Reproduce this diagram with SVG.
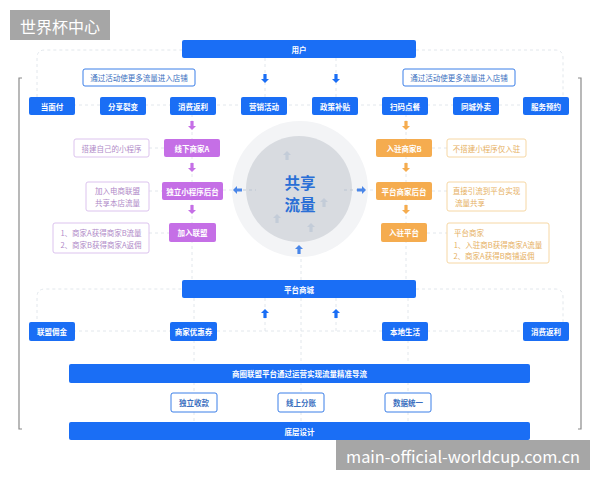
<svg xmlns="http://www.w3.org/2000/svg" width="600" height="480" viewBox="0 0 600 480">
<defs>
<style>
text{font-family:"Noto Sans CJK SC","Noto Sans",sans-serif;text-anchor:middle;dominant-baseline:central}
.b{fill:#1a6ef5}
.bt{fill:#fff;font-size:7.5px;font-weight:bold}
.wb{fill:#fff;stroke:#3a7ee8;stroke-width:1}
.wt{fill:#3a6fc0;font-size:7.5px;font-weight:bold}
.p{fill:#c56fe6}
.pb{fill:#fff;stroke:#dcc3ee;stroke-width:1}
.pt{fill:#b08ac8;font-size:7.5px}
.o{fill:#f5ac4f}
.ob{fill:#fff;stroke:#f6d7a4;stroke-width:1}
.ot{fill:#e6b062;font-size:7.5px}
.d{fill:none;stroke:#dfe4ea;stroke-width:0.9;stroke-dasharray:3 3}
.br{fill:none;stroke:#8a8a8a;stroke-width:1.2}
</style>
<path id="arr" d="M-1.6,-5 L1.6,-5 L1.6,0 L4,0 L0,4 L-4,0 L-1.6,0Z"/>
</defs>
<rect width="600" height="480" fill="#fff"/>

<g id="connectors">
<path class="d" d="M37,97 V58 Q37,50 45,50 H182 M416,50 H555 Q563,50 563,58 V97"/>
<path class="d" d="M37,105 H563"/>
<path class="d" d="M265,58 V97 M336,58 V97"/>
<path class="d" d="M192,114 V280 M406,114 V280 M301,253 V280"/>
<path class="d" d="M149,148 H164 M149,191 H162 M149,233 H169 M432,148 H447 M432,191 H447 M427,233 H447"/>
<path class="d" d="M223,190 H233 M241,190 H256 M344,190 H358 M364,190 H376"/>
<path class="d" d="M37,331 V297 Q37,289 45,289 H182 M416,289 H555 Q563,289 563,297 V331"/>
<path class="d" d="M37,331 H563"/>
<path class="d" d="M265,298 V331 M336,298 V331"/>
<path class="d" d="M194,298 V422 M301,298 V422 M408,298 V422"/>
<path class="br" d="M22,78 H19 V429 H22 M578,78 H581 V429 H578"/>
<g fill="#1a6ef5">
<use href="#arr" x="265" y="79"/>
<use href="#arr" x="336" y="79"/>
<use href="#arr" x="265" y="313" transform="rotate(180 265 313)"/>
<use href="#arr" x="336" y="313" transform="rotate(180 336 313)"/>
</g>
<g fill="#c56fe6">
<use href="#arr" x="192" y="126"/>
<use href="#arr" x="192" y="168"/>
<use href="#arr" x="192" y="210"/>
</g>
<g fill="#f5ac4f">
<use href="#arr" x="406" y="126"/>
<use href="#arr" x="406" y="168"/>
<use href="#arr" x="406" y="210"/>
</g>
</g>

<g id="title">
<rect x="10" y="10" width="100" height="30" fill="#a6a6a6"/>
<text x="60" y="25.5" fill="#fff" style="font-size:16px">世界杯中心</text>
</g>

<g id="user"><rect class="b" x="182" y="40" width="234" height="18" rx="2"/><text class="bt" x="299" y="49">用户</text></g>
<g id="note-l"><rect class="wb" x="83" y="69" width="112" height="17" rx="2"/><text class="wt" x="139" y="77.5" style="font-weight:normal">通过活动使更多流量进入店铺</text></g>
<g id="note-r"><rect class="wb" x="403" y="69" width="112" height="17" rx="2"/><text class="wt" x="459" y="77.5" style="font-weight:normal">通过活动使更多流量进入店铺</text></g>

<g id="r1-1"><rect class="b" x="29" y="97" width="46" height="18" rx="2"/><text class="bt" x="52" y="106">当面付</text></g>
<g id="r1-2"><rect class="b" x="100" y="97" width="46" height="18" rx="2"/><text class="bt" x="123" y="106">分享裂变</text></g>
<g id="r1-3"><rect class="b" x="170" y="97" width="46" height="18" rx="2"/><text class="bt" x="193" y="106">消费返利</text></g>
<g id="r1-4"><rect class="b" x="241" y="97" width="46" height="18" rx="2"/><text class="bt" x="264" y="106">营销活动</text></g>
<g id="r1-5"><rect class="b" x="312" y="97" width="46" height="18" rx="2"/><text class="bt" x="335" y="106">政策补贴</text></g>
<g id="r1-6"><rect class="b" x="382" y="97" width="46" height="18" rx="2"/><text class="bt" x="405" y="106">扫码点餐</text></g>
<g id="r1-7"><rect class="b" x="453" y="97" width="46" height="18" rx="2"/><text class="bt" x="476" y="106">同城外卖</text></g>
<g id="r1-8"><rect class="b" x="523" y="97" width="46" height="18" rx="2"/><text class="bt" x="546" y="106">服务预约</text></g>

<g id="pa"><rect class="p" x="164" y="139" width="56" height="18" rx="2"/><text class="bt" x="192" y="148">线下商家A</text></g>
<g id="pa-n"><rect class="pb" x="74" y="139" width="75" height="18" rx="2"/><text class="pt" x="111.5" y="148">搭建自己的小程序</text></g>
<g id="pb"><rect class="p" x="162" y="182" width="61" height="18" rx="2"/><text class="bt" x="192.5" y="191">独立小程序后台</text></g>
<g id="pb-n"><rect class="pb" x="86" y="182" width="63" height="29" rx="2"/><text class="pt" x="117.5" y="190.5">加入电商联盟</text><text class="pt" x="117.5" y="202">共享本店流量</text></g>
<g id="pc"><rect class="p" x="169" y="223" width="47" height="19" rx="2"/><text class="bt" x="192.5" y="232.5">加入联盟</text></g>
<g id="pc-n"><rect class="pb" x="53" y="223" width="96" height="30" rx="2"/><text class="pt" x="101" y="232">1、商家A获得商家B流量</text><text class="pt" x="101" y="244">2、商家B获得商家A返佣</text></g>

<g id="oa"><rect class="o" x="376" y="139" width="56" height="18" rx="2"/><text class="bt" x="404" y="148">入驻商家B</text></g>
<g id="oa-n"><rect class="ob" x="447" y="139" width="79" height="18" rx="2"/><text class="ot" x="486.5" y="148">不搭建小程序仅入驻</text></g>
<g id="ob"><rect class="o" x="376" y="182" width="56" height="18" rx="2"/><text class="bt" x="404" y="191">平台商家后台</text></g>
<g id="ob-n"><rect class="ob" x="447" y="182" width="79" height="29" rx="2"/><text class="ot" x="486.5" y="190.5">直接引流到平台实现</text><text class="ot" x="470" y="202">流量共享</text></g>
<g id="oc"><rect class="o" x="381" y="223" width="46" height="19" rx="2"/><text class="bt" x="404" y="232.5">入驻平台</text></g>
<g id="oc-n"><rect class="ob" x="447" y="223" width="102" height="40" rx="2"/><text class="ot" x="469" y="232">平台商家</text><text class="ot" x="498" y="244">1、入驻商B获得商家A流量</text><text class="ot" x="494" y="255.5">2、商家A获得B商铺返佣</text></g>

<g id="center">
<circle cx="300" cy="189" r="68" fill="#f3f4f6"/>
<circle cx="299" cy="189" r="53" fill="#d8dbe0"/>
<g fill="#c3ccd8">
<use href="#arr" x="287" y="155" transform="rotate(180 287 155)"/>
<use href="#arr" x="324" y="202" transform="rotate(180 324 202)"/>
<use href="#arr" x="277" y="218" transform="rotate(180 277 218)"/>
<use href="#arr" x="311" y="227" transform="rotate(180 311 227)"/>
</g>
<path class="d" d="M243,190 H256 M344,190 H357" style="stroke:#b9c3d0"/>
<use href="#arr" x="237" y="190" transform="rotate(90 237 190)" fill="#4a86e8"/>
<use href="#arr" x="362" y="190" transform="rotate(-90 362 190)" fill="#4a86e8"/>
<use href="#arr" x="299" y="249" transform="rotate(180 299 249)" fill="#4a86e8"/>
<text x="300" y="181.5" fill="#2a6fd6" style="font-size:15.5px;font-weight:bold">共享</text>
<text x="300" y="204" fill="#2a6fd6" style="font-size:15.5px;font-weight:bold">流量</text>
</g>

<g id="mall"><rect class="b" x="182" y="280" width="234" height="18" rx="2"/><text class="bt" x="299" y="289">平台商城</text></g>
<g id="r2-1"><rect class="b" x="29" y="322" width="46" height="19" rx="2"/><text class="bt" x="52" y="331.5">联盟佣金</text></g>
<g id="r2-2"><rect class="b" x="170" y="322" width="47" height="19" rx="2"/><text class="bt" x="193.5" y="331.5">商家优惠券</text></g>
<g id="r2-3"><rect class="b" x="382" y="322" width="46" height="19" rx="2"/><text class="bt" x="405" y="331.5">本地生活</text></g>
<g id="r2-4"><rect class="b" x="523" y="322" width="46" height="19" rx="2"/><text class="bt" x="546" y="331.5">消费返利</text></g>

<g id="alliance"><rect class="b" x="69" y="364" width="461" height="19" rx="2"/><text class="bt" x="299.5" y="373.5">商圈联盟平台通过运营实现流量精准导流</text></g>
<g id="b-1"><rect class="wb" x="171" y="393" width="46" height="19" rx="2"/><text class="wt" x="194" y="402.5">独立收款</text></g>
<g id="b-2"><rect class="wb" x="278" y="393" width="46" height="19" rx="2"/><text class="wt" x="301" y="402.5">线上分账</text></g>
<g id="b-3"><rect class="wb" x="385" y="393" width="46" height="19" rx="2"/><text class="wt" x="408" y="402.5">数据统一</text></g>
<g id="base"><rect class="b" x="69" y="422" width="461" height="18" rx="2"/><text class="bt" x="299.5" y="431">底层设计</text></g>

<g id="watermark">
<rect x="336" y="440" width="254" height="30" fill="#a6a6a6"/>
<text x="463" y="455.5" fill="#fff" style="font-size:16px" textLength="234" lengthAdjust="spacingAndGlyphs">main-official-worldcup.com.cn</text>
</g>
</svg>
